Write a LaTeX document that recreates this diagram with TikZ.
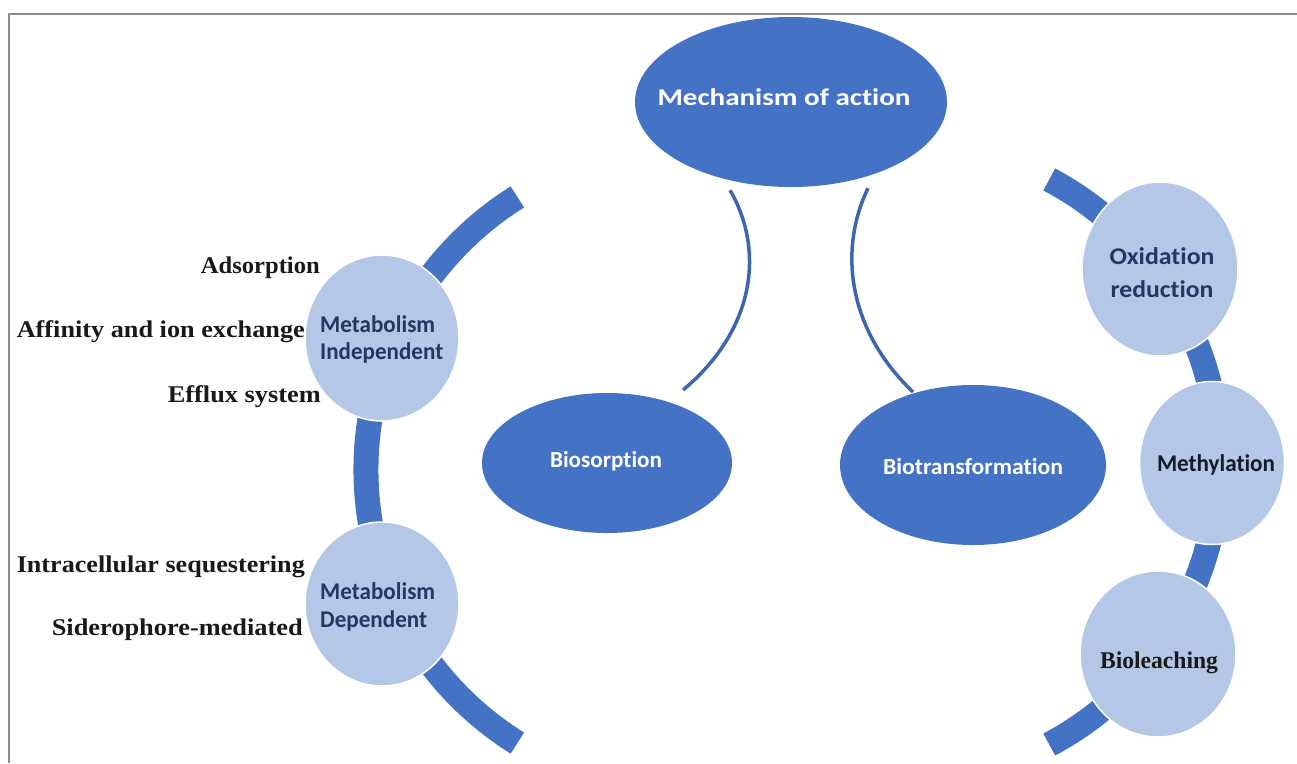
\documentclass[tikz,border=0pt]{standalone}
\usepackage{fontspec}
\usepackage{graphicx}
\setmainfont{Liberation Serif}
\newfontfamily\carl[Ligatures={NoCommon,NoRequired,NoContextual}]{Carlito}
\usetikzlibrary{shapes.geometric,calc}
\definecolor{dblue}{HTML}{4472C4}
\definecolor{lblue}{HTML}{B4C7E7}
\definecolor{navy}{HTML}{203864}
\definecolor{darknavy}{HTML}{141A2E}
\definecolor{lineblue}{HTML}{3D66B0}
\definecolor{framegray}{HTML}{8C8C8C}
\newcommand\fitw[2]{\resizebox{#1pt}{\height}{#2}}
\begin{document}
\begin{tikzpicture}[x=1pt,y=-1pt,
  bigell/.style={ellipse, fill=dblue, draw=none, inner sep=0pt},
  disc/.style={ellipse, fill=lblue, draw=white, line width=1.5pt, inner sep=0pt},
  band/.style={line width=25pt, draw=dblue},
  thinlink/.style={line width=3.5pt, draw=lineblue},
  wtxt/.style={text=white, font=\carl\bfseries\fontsize{23}{23}\selectfont, inner sep=0pt},
  ctxt/.style={text=navy, font=\carl\bfseries\fontsize{24}{24}\selectfont, inner sep=0pt, anchor=base west},
  lab/.style={font=\bfseries\fontsize{24}{24}\selectfont, text=black!90, inner sep=0pt, anchor=base east}]
\useasboundingbox (0,0) rectangle (1297,763);
\fill[white] (0,0) rectangle (1297,763);
\draw[framegray, line width=2.5pt] (9,763) -- (9,14) -- (1297,14);

% thick bands
\draw[band] (688,470) ++(122:322) arc[start angle=122, end angle=238, radius=322];
\draw[band] (899,462) ++(-62:320) arc[start angle=-62, end angle=62, radius=320];

% discs
\node[disc, minimum width=154pt, minimum height=166pt] (mi) at (382,338) {};
\node[disc, minimum width=154pt, minimum height=164pt] (md) at (382,604) {};
\node[disc, minimum width=156pt, minimum height=174pt] (ox) at (1160,269) {};
\node[disc, minimum width=145pt, minimum height=163pt] (me) at (1212,463) {};
\node[disc, minimum width=156pt, minimum height=166pt] (bl) at (1158,654) {};

% ellipses
\node[bigell, minimum width=312pt, minimum height=170pt] (main) at (791,102) {};
\node[bigell, minimum width=250pt, minimum height=140pt] (bios) at (607,463) {};
\node[bigell, minimum width=266pt, minimum height=160pt] (biot) at (973,465) {};

% thin connectors
\draw[thinlink] ($(main.south)+(-61,3)$) .. controls ($(main.south)+(-26,63)$) and ($(bios.center)+(148,-133)$) .. ($(bios.center)+(76,-73)$);
\draw[thinlink] ($(main.south)+(77,1)$) .. controls ($(main.south)+(47,63)$) and ($(biot.center)+(-125,-135)$) .. ($(biot.center)+(-60,-73)$);

% ellipse texts
\node[wtxt, font=\carl\bfseries\fontsize{24}{24}\selectfont] (tmain) at (784,97) {\fitw{253}{Mechanism of action}};
\node[wtxt] (tbios) at (606,461) {\fitw{112}{Biosorption}};
\node[wtxt] (tbiot) at (973,467) {\fitw{180}{Biotransformation}};

% disc texts
\node[ctxt] (mi1) at (320,332) {\fitw{115}{Metabolism}};
\node[ctxt] (mi2) at (320,359) {\fitw{123}{Independent}};
\node[ctxt] (md1) at (320,599) {\fitw{115}{Metabolism}};
\node[ctxt] (md2) at (320,627) {\fitw{107}{Dependent}};
\node[ctxt, anchor=base] (ox1) at (1162,264) {\fitw{105}{Oxidation}};
\node[ctxt, anchor=base] (ox2) at (1162,297) {\fitw{103}{reduction}};
\node[ctxt, anchor=base, text=darknavy] (me1) at (1216,471) {\fitw{118}{Methylation}};
\node[lab, anchor=base] (bl1) at (1159,668) {\fitw{118}{Bioleaching}};

% side labels
\node[lab] (a1) at (320,273) {\fitw{119}{Adsorption}};
\node[lab] (a2) at (305,337) {\fitw{288}{Affinity and ion exchange}};
\node[lab] (a3) at (321,402) {\fitw{153}{Efflux system}};
\node[lab] (a4) at (305,572) {\fitw{288}{Intracellular sequestering}};
\node[lab] (a5) at (303,635) {\fitw{251}{Siderophore-mediated}};
\end{tikzpicture}
\end{document}
